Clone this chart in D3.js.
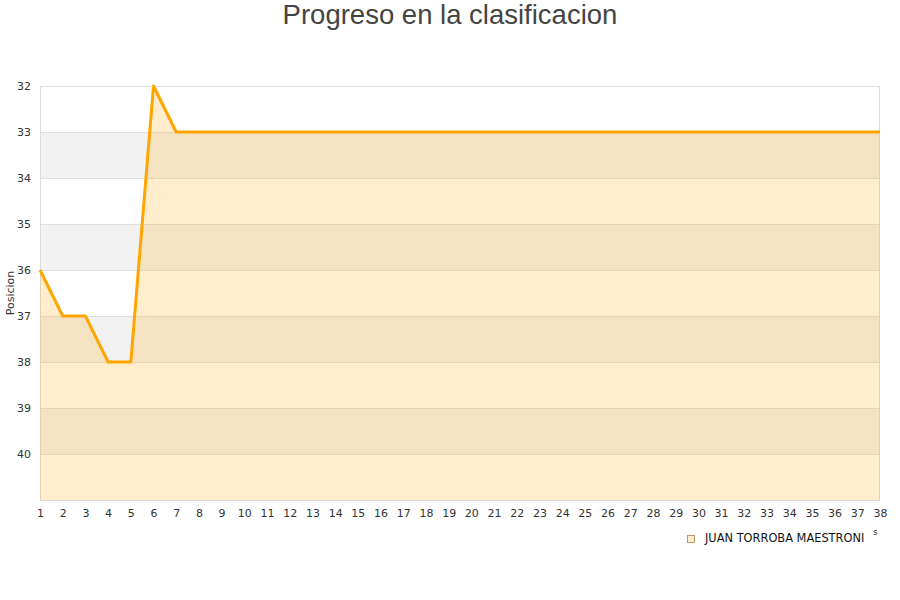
<!DOCTYPE html>
<html><head><meta charset="utf-8">
<script src="https://cdn.jsdelivr.net/npm/d3@7"></script>
<style>body{margin:0;background:#fff}svg{display:block}</style>
</head><body><svg id="c" width="900" height="600"></svg>
<script>
const jornadas = d3.range(1, 39);
const posiciones = [36,37,37,38,38,32,33,33,33,33,33,33,33,33,33,33,33,33,33,33,33,33,33,33,33,33,33,33,33,33,33,33,33,33,33,33,33,33];
const yTicks = [32,33,34,35,36,37,38,39,40];
const seriesName = "JUAN TORROBA MAESTRONI";
const title = "Progreso en la clasificacion";

const svg = d3.select("#c");
const m = {l:40, r:880, t:86, b:500};
const x = d3.scaleLinear().domain([1,38]).range([m.l, m.r]);
const y = d3.scaleLinear().domain([32,41]).range([m.t, m.b]);

const bands = [33,35,37,39];
svg.selectAll("rect.band").data(bands).enter().append("rect")
  .attr("x", m.l).attr("width", m.r-m.l)
  .attr("y", d=>y(d)).attr("height", d=>y(d+1)-y(d))
  .attr("fill", "#f2f2f2");
svg.selectAll("line.grid").data(yTicks.concat([41])).enter().append("line")
  .attr("x1", m.l).attr("x2", m.r).attr("y1", d=>y(d)+0.5).attr("y2", d=>y(d)+0.5)
  .attr("stroke", "#e0e0e0");
svg.append("rect").attr("x", m.l+0.5).attr("y", m.t+0.5).attr("width", m.r-m.l-1).attr("height", m.b-m.t)
  .attr("fill","none").attr("stroke","#dcdcdc");

const data = jornadas.map((j,i)=>({j, p:posiciones[i]}));
svg.append("path").datum(data)
  .attr("d", d3.area().x(d=>x(d.j)).y0(m.b).y1(d=>y(d.p)))
  .attr("fill", "rgba(255,165,0,0.2)");
svg.append("path").datum(data)
  .attr("d", d3.line().x(d=>x(d.j)).y(d=>y(d.p)))
  .attr("fill", "none").attr("stroke", "#ffa500").attr("stroke-width", 3).attr("stroke-linejoin","round");

const fnt = "DejaVu Sans, sans-serif";
const xa = svg.append("g").attr("transform", `translate(0,${m.b})`)
  .call(d3.axisBottom(x).tickValues(jornadas).tickSize(0).tickPadding(9).tickFormat(d3.format("d")));
xa.select(".domain").remove();
xa.selectAll("text").attr("font-family", fnt).attr("font-size", 11).attr("fill", "#333");
const ya = svg.append("g").attr("transform", `translate(${m.l},0)`)
  .call(d3.axisLeft(y).tickValues(yTicks).tickSize(0).tickPadding(9).tickFormat(d3.format("d")));
ya.select(".domain").remove();
ya.selectAll("text").attr("font-family", fnt).attr("font-size", 11).attr("fill", "#333");

svg.append("text").attr("transform", "translate(14,293) rotate(-90)").attr("text-anchor","middle")
  .attr("font-family", fnt).attr("font-size", 11).attr("fill","#333").text("Posicion");

svg.append("text").attr("x", 450).attr("y", 24).attr("text-anchor","middle")
  .attr("font-family", "Liberation Sans, Arial, sans-serif").attr("font-size", 27.5).attr("fill","#444").text(title);

svg.append("rect").attr("x", 687.5).attr("y", 535.5).attr("width", 7).attr("height", 7)
  .attr("fill", "#ffebcc").attr("stroke", "#b89a6a");
svg.append("text").attr("x", 705).attr("y", 542).attr("font-family", fnt).attr("font-size", 11.4).attr("fill","#111").text(seriesName);
svg.append("text").attr("x", 873).attr("y", 535).attr("font-family", fnt).attr("font-size", 9).attr("fill","#333").text("s");
</script></body></html>
